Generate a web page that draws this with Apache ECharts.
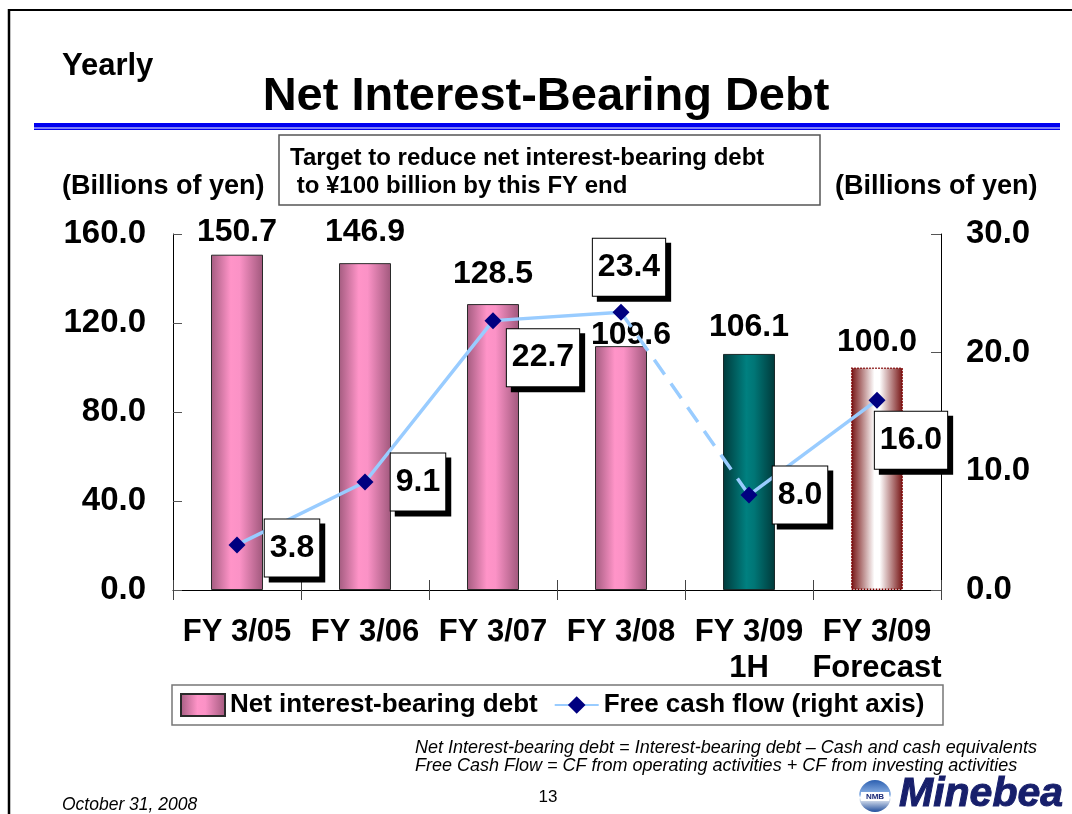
<!DOCTYPE html>
<html>
<head>
<meta charset="utf-8">
<script src="https://cdn.jsdelivr.net/npm/echarts@6/dist/echarts.min.js"></script>
<style>
html,body{margin:0;padding:0;background:#fff;}
#chart{width:1072px;height:814px;}
</style>
</head>
<body>
<div id="chart"></div>
<script>
// ---- data ----
const categories = ['FY 3/05', 'FY 3/06', 'FY 3/07', 'FY 3/08', 'FY 3/09\n1H', 'FY 3/09\nForecast'];
const netDebt = [150.7, 146.9, 128.5, 109.6, 106.1, 100.0];
const freeCashFlow = [3.8, 9.1, 22.7, 23.4, 8.0, 16.0];
const leftAxisRange = [0, 160, 40];
const rightAxisRange = [0, 30, 10];
const seriesNames = ['Net interest-bearing debt', 'Free cash flow (right axis)'];

// ---- layout / style (kept separate from data) ----
const FONT = '"Liberation Sans", Arial, sans-serif';
const barLabelOffsets = [[0, -2], [0, -10], [0, -9], [10, 10], [0, -6], [0, -4]];
const lineLabelOffsets = [[55, 3], [53, 0], [50, 37], [8, -45], [51, 0], [34, 40]];

function hGrad(stops) {
  return { type: 'linear', x: 0, y: 0, x2: 1, y2: 0,
    colorStops: stops.map(s => ({ offset: s[0], color: s[1] })) };
}
const pinkGrad = hGrad([[0, '#a45c80'], [0.38, '#ff94c8'], [0.55, '#fb92c6'], [1, '#a0587c']]);
const tealGrad = hGrad([[0, '#003a3b'], [0.45, '#008080'], [0.6, '#007676'], [1, '#00393a']]);
const fcGrad = hGrad([[0, '#741010'], [0.45, '#ffffff'], [0.55, '#ffffff'], [1, '#741010']]);

const barItemStyles = [null, null, null, null,
  { color: tealGrad, borderColor: '#1a2a2a', borderWidth: 1 },
  { color: fcGrad, borderColor: '#800000', borderWidth: 1.5, borderType: 'dotted' }];

const barData = netDebt.map((v, i) => {
  const item = { value: v, label: { offset: barLabelOffsets[i] } };
  if (barItemStyles[i]) item.itemStyle = barItemStyles[i];
  return item;
});

function lineData(fromIdx, toIdx) {
  return freeCashFlow.map((v, i) => {
    if (i < fromIdx || i > toIdx) return '-';
    return { value: v, label: { offset: lineLabelOffsets[i] } };
  });
}
function plainLineData(fromIdx, toIdx) {
  return freeCashFlow.map((v, i) => (i < fromIdx || i > toIdx) ? '-' : v);
}

const lineLabel = {
  show: true, position: 'inside', color: '#000', fontSize: 32, fontWeight: 'bold',
  fontFamily: FONT, lineHeight: 34, padding: [12, 5, 11, 5],
  backgroundColor: '#fff', borderColor: '#000', borderWidth: 1,
  shadowColor: '#000', shadowOffsetX: 5, shadowOffsetY: 5, shadowBlur: 0,
  formatter: p => Number(p.value).toFixed(1)
};
const lineStyleSolid = { color: '#99ccff', width: 3.5 };

const chart = echarts.init(document.getElementById('chart'), null, { renderer: 'canvas' });

function txt(text, x, y, font, align) {
  return { type: 'text', style: { text: text, x: x, y: y, fill: '#000', font: font,
    textAlign: align || 'left', textVerticalAlign: 'middle', align: align || 'left', verticalAlign: 'middle' } };
}

const option = {
  backgroundColor: '#ffffff',
  animation: false,
  textStyle: { fontFamily: FONT },
  grid: { left: 173, top: 234, width: 768, height: 356 },
  legend: {
    left: 180, top: 692, padding: 0, itemGap: 16,
    itemWidth: 44, itemHeight: 22,
    data: [{ name: seriesNames[0], icon: 'rect' }, { name: seriesNames[1] }],
    textStyle: { fontSize: 26, fontWeight: 'bold', color: '#000', fontFamily: FONT, lineHeight: 26 }
  },
  xAxis: [{
    type: 'category', data: categories, position: 'bottom',
    axisLine: { show: true, lineStyle: { color: '#000', width: 1 } },
    axisTick: { show: true, length: 10, lineStyle: { color: '#444' } },
    axisLabel: { interval: 0, fontSize: 31, fontWeight: 'bold', color: '#000', margin: 24, lineHeight: 36, fontFamily: FONT },
    splitLine: { show: false }
  }, {
    type: 'category', data: categories, position: 'bottom',
    axisLine: { show: false },
    axisTick: { show: true, inside: true, length: 10, lineStyle: { color: '#444' } },
    axisLabel: { show: false },
    splitLine: { show: false }
  }],
  yAxis: [{
    type: 'value', min: leftAxisRange[0], max: leftAxisRange[1], interval: leftAxisRange[2],
    position: 'left',
    axisLine: { show: true, lineStyle: { color: '#000', width: 1 } },
    axisTick: { show: true, inside: true, length: 9, lineStyle: { color: '#555' } },
    axisLabel: { fontSize: 33, fontWeight: 'bold', color: '#000', margin: 27, fontFamily: FONT,
      formatter: v => v.toFixed(1) },
    splitLine: { show: false }
  }, {
    type: 'value', min: rightAxisRange[0], max: rightAxisRange[1], interval: rightAxisRange[2],
    position: 'right',
    axisLine: { show: true, lineStyle: { color: '#000', width: 1 } },
    axisTick: { show: true, inside: true, length: 10, lineStyle: { color: '#555' } },
    axisLabel: { fontSize: 33, fontWeight: 'bold', color: '#000', margin: 25, fontFamily: FONT,
      formatter: v => v.toFixed(1) },
    splitLine: { show: false }
  }],
  series: [{
    name: seriesNames[0], type: 'bar', xAxisIndex: 0, yAxisIndex: 0, barWidth: 52, z: 1,
    data: barData,
    itemStyle: { color: pinkGrad, borderColor: '#2a2a2a', borderWidth: 1 },
    label: { show: true, position: 'top', distance: 5, color: '#000', fontSize: 32,
      fontWeight: 'bold', lineHeight: 32, fontFamily: FONT,
      formatter: p => Number(p.value).toFixed(1) }
  }, {
    name: 'fcf-dashed', type: 'line', yAxisIndex: 1, z: 2, symbol: 'none', silent: true,
    data: plainLineData(3, 4),
    lineStyle: { color: '#99ccff', width: 3.5, type: [18, 11] }
  }, {
    name: seriesNames[1], type: 'line', yAxisIndex: 1, z: 3,
    symbol: 'diamond', symbolSize: 17, showAllSymbol: true,
    itemStyle: { color: '#000080', borderWidth: 0 },
    lineStyle: lineStyleSolid,
    data: lineData(0, 3),
    label: lineLabel
  }, {
    name: 'fcf-tail', type: 'line', yAxisIndex: 1, z: 3,
    symbol: 'diamond', symbolSize: 17, showAllSymbol: true,
    itemStyle: { color: '#000080', borderWidth: 0 },
    lineStyle: lineStyleSolid,
    data: lineData(4, 5),
    label: lineLabel
  }],
  graphic: [
    // slide frame
    { type: 'line', shape: { x1: 8, y1: 10, x2: 1072, y2: 10 }, style: { stroke: '#000', lineWidth: 2 }, silent: true },
    { type: 'line', shape: { x1: 9, y1: 9, x2: 9, y2: 814 }, style: { stroke: '#000', lineWidth: 2.5 }, silent: true },
    // header
    txt('Yearly', 62, 66, 'bold 31px ' + FONT),
    txt('Net Interest-Bearing Debt', 546, 97, 'bold 47px ' + FONT, 'center'),
    { type: 'rect', shape: { x: 34, y: 123, width: 1026, height: 4.5 }, style: { fill: '#0000f0' }, silent: true },
    { type: 'rect', shape: { x: 34, y: 128.5, width: 1026, height: 1.5 }, style: { fill: '#0000f0' }, silent: true },
    // annotation box
    { type: 'rect', shape: { x: 279, y: 135, width: 541, height: 70 }, style: { fill: '#fff', stroke: '#555', lineWidth: 1.5 } },
    txt('Target to reduce net interest-bearing debt', 290, 158, 'bold 24px ' + FONT),
    txt(' to \u00a5100 billion by this FY end', 290, 186, 'bold 24px ' + FONT),
    // axis units
    txt('(Billions of yen)', 62, 187, 'bold 27px ' + FONT),
    txt('(Billions of yen)', 835, 187, 'bold 27px ' + FONT),
    // legend frame
    { type: 'rect', shape: { x: 172, y: 685, width: 771, height: 40 }, style: { fill: 'none', stroke: '#777', lineWidth: 1.5 }, silent: true },
    // footnotes
    txt('Net Interest-bearing debt = Interest-bearing debt \u2013 Cash and cash equivalents', 415, 748, 'italic 18px ' + FONT),
    txt('Free Cash Flow = CF from operating activities + CF from investing activities', 415, 766, 'italic 18px ' + FONT),
    txt('October 31, 2008', 62, 805, 'italic 17.5px ' + FONT),
    txt('13', 548, 797, '17px ' + FONT, 'center'),
    // logo
    { type: 'circle', shape: { cx: 875, cy: 796, r: 16 },
      style: { fill: { type: 'linear', x: 0, y: 0, x2: 0, y2: 1, colorStops: [
        { offset: 0, color: '#2c5fb0' }, { offset: 0.45, color: '#8fb4e6' }, { offset: 0.55, color: '#ffffff' }, { offset: 1, color: '#1f4d9c' }] } } },
    { type: 'rect', shape: { x: 861, y: 792, width: 28, height: 9 }, style: { fill: '#fff' } },
    { type: 'text', style: { text: 'NMB', x: 875, y: 796.5, fill: '#1b2a78', font: 'bold 8px ' + FONT,
      textAlign: 'center', textVerticalAlign: 'middle', align: 'center', verticalAlign: 'middle' } },
    { type: 'text', style: { text: 'Minebea', x: 899, y: 795, fill: '#171f6b', font: 'italic bold 41px ' + FONT,
      textAlign: 'left', textVerticalAlign: 'middle', align: 'left', verticalAlign: 'middle',
      stroke: '#171f6b', lineWidth: 1 } }
  ]
};
chart.setOption(option);
</script>
</body>
</html>
